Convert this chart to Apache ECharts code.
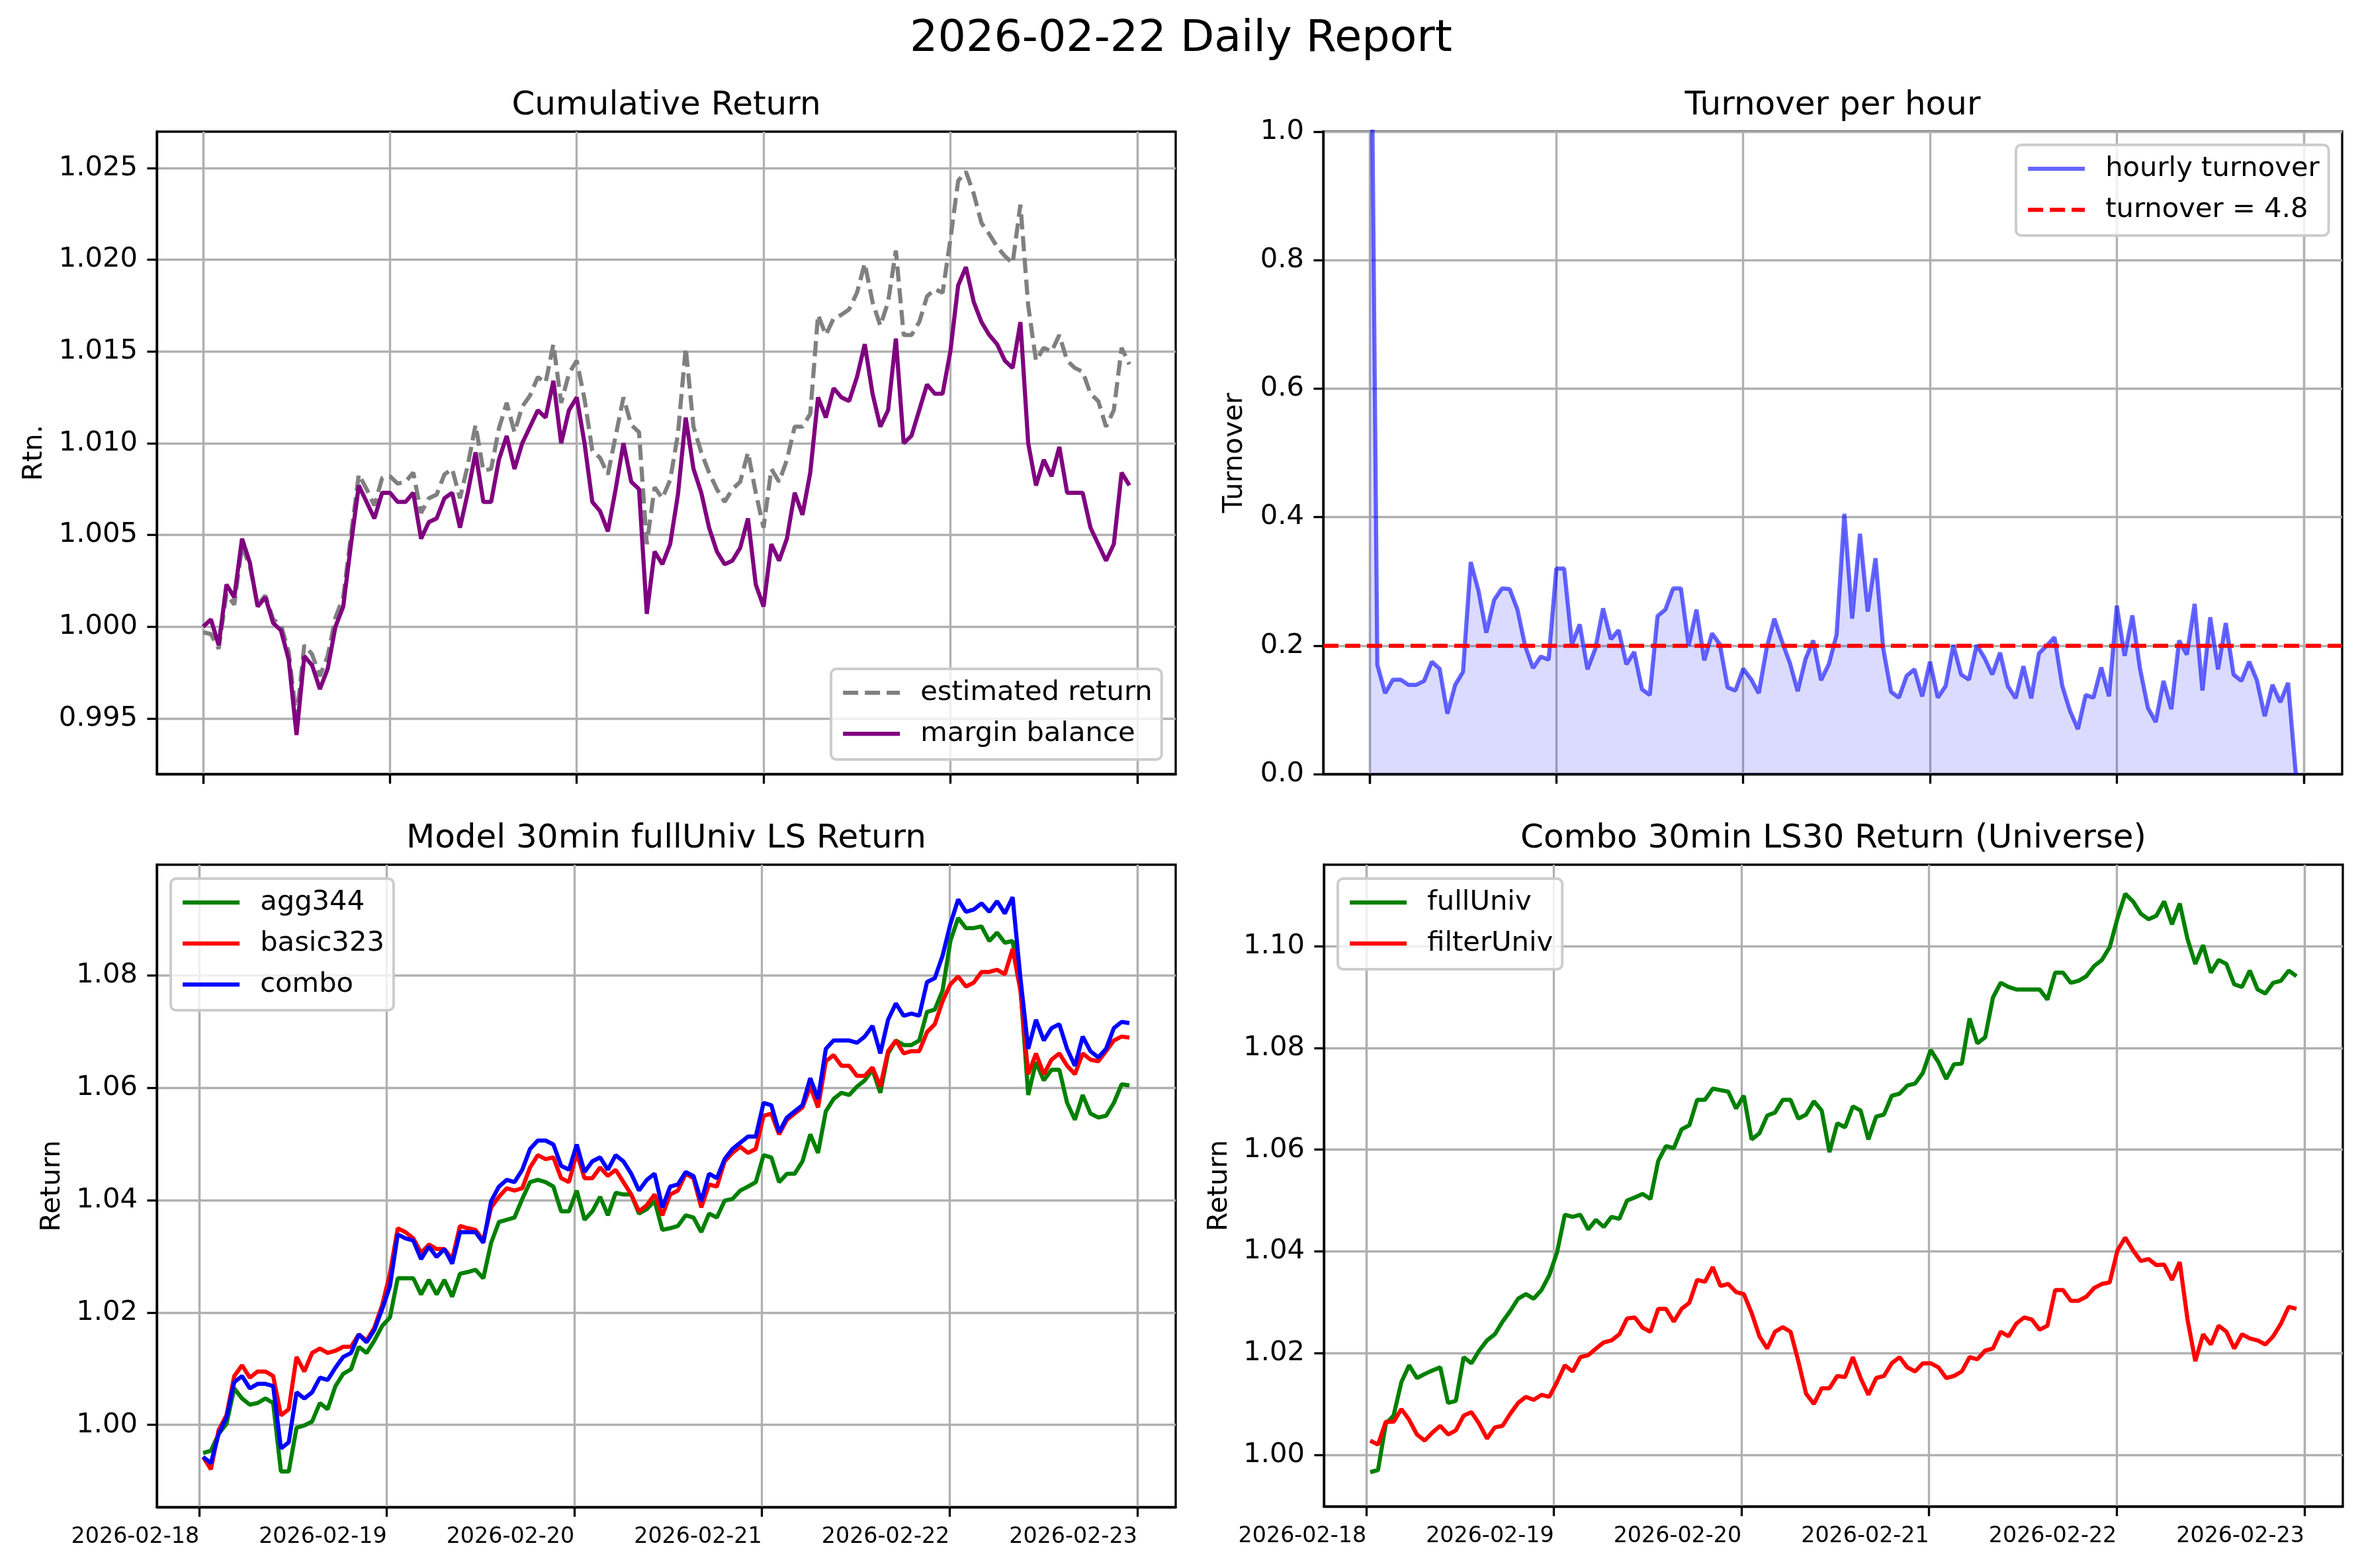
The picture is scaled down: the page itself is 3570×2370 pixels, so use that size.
<!DOCTYPE html>
<html>
<head>
<meta charset="utf-8">
<title>2026-02-22 Daily Report</title>
<script src="https://cdn.jsdelivr.net/npm/echarts@6/dist/echarts.min.js"></script>
<style>
  html, body { margin: 0; padding: 0; background: #fff; }
  #chart { width: 3570px; height: 2370px; }
</style>
</head>
<body>
<div id="chart"></div>
<script>
const HOUR = 3600 * 1000;
const FONT = 'DejaVu Sans';

// time ranges of the samples (local time)
const cumStart = new Date(2026, 1, 18, 0, 0).getTime();
const cumEnd = new Date(2026, 1, 22, 23, 0).getTime();
const modelStart = new Date(2026, 1, 18, 0, 30).getTime();
const modelEnd = new Date(2026, 1, 22, 23, 0).getTime();

// tick labels
const dayTicks = ['2026-02-18', '2026-02-19', '2026-02-20', '2026-02-21', '2026-02-22', '2026-02-23'];
const cumTicks = [0.995, 1.000, 1.005, 1.010, 1.015, 1.020, 1.025];
const turnoverTicks = [0.0, 0.2, 0.4, 0.6, 0.8, 1.0];
const modelTicks = [1.00, 1.02, 1.04, 1.06, 1.08];
const univTicks = [1.00, 1.02, 1.04, 1.06, 1.08, 1.10];

// Cumulative Return (hourly samples)
const marginBalance = [
  1.0000, 1.0004, 0.9990, 1.0023, 1.0016, 1.0048, 1.0035, 1.0011, 1.0016, 1.0002,
  0.9998, 0.9982, 0.9941, 0.9984, 0.9979, 0.9966, 0.9977, 1.0000, 1.0011, 1.0045,
  1.0077, 1.0068, 1.0059, 1.0073, 1.0073, 1.0068, 1.0068, 1.0073, 1.0048, 1.0057,
  1.0059, 1.0070, 1.0073, 1.0054, 1.0073, 1.0095, 1.0068, 1.0068, 1.0091, 1.0104,
  1.0086, 1.0100, 1.0109, 1.0118, 1.0114, 1.0134, 1.0100, 1.0118, 1.0125, 1.0100,
  1.0068, 1.0063, 1.0052, 1.0075, 1.0100, 1.0079, 1.0075, 1.0007, 1.0041, 1.0034,
  1.0045, 1.0072, 1.0114, 1.0086, 1.0073, 1.0054, 1.0041, 1.0034, 1.0036, 1.0043,
  1.0059, 1.0023, 1.0011, 1.0045, 1.0036, 1.0048, 1.0073, 1.0061, 1.0084, 1.0125,
  1.0114, 1.0130, 1.0125, 1.0123, 1.0136, 1.0154, 1.0127, 1.0109, 1.0118, 1.0157,
  1.0100, 1.0104, 1.0118, 1.0132, 1.0127, 1.0127, 1.0150, 1.0186, 1.0196, 1.0177,
  1.0166, 1.0159, 1.0154, 1.0145, 1.0141, 1.0166, 1.0100, 1.0077, 1.0091, 1.0082,
  1.0098, 1.0073, 1.0073, 1.0073, 1.0054, 1.0045, 1.0036, 1.0045, 1.0084, 1.0077
];
const estimatedReturn = [
  0.9997, 0.9996, 0.9988, 1.0018, 1.0012, 1.0044, 1.0033, 1.0012, 1.0017, 1.0004,
  1.0001, 0.9986, 0.9950, 0.9990, 0.9985, 0.9973, 0.9984, 1.0005, 1.0016, 1.0050,
  1.0083, 1.0075, 1.0066, 1.0081, 1.0082, 1.0078, 1.0079, 1.0084, 1.0062, 1.0070,
  1.0072, 1.0083, 1.0086, 1.0070, 1.0088, 1.0110, 1.0085, 1.0086, 1.0108, 1.0122,
  1.0106, 1.0120, 1.0126, 1.0136, 1.0133, 1.0154, 1.0122, 1.0138, 1.0145, 1.0124,
  1.0096, 1.0092, 1.0083, 1.0104, 1.0125, 1.0110, 1.0106, 1.0045, 1.0076, 1.0070,
  1.0080, 1.0105, 1.0152, 1.0109, 1.0095, 1.0084, 1.0075, 1.0068, 1.0075, 1.0079,
  1.0095, 1.0073, 1.0054, 1.0086, 1.0079, 1.0091, 1.0109, 1.0109, 1.0116, 1.0170,
  1.0159, 1.0168, 1.0170, 1.0173, 1.0182, 1.0198, 1.0177, 1.0164, 1.0177, 1.0205,
  1.0159, 1.0159, 1.0166, 1.0180, 1.0184, 1.0182, 1.0211, 1.0243, 1.0248, 1.0236,
  1.0220, 1.0214, 1.0207, 1.0202, 1.0198, 1.0230, 1.0175, 1.0145, 1.0152, 1.0150,
  1.0159, 1.0145, 1.0141, 1.0139, 1.0127, 1.0123, 1.0109, 1.0118, 1.0152, 1.0143
];

// Turnover per hour
const hourlyTurnover = [
  1.500, 0.170, 0.126, 0.147, 0.147, 0.139, 0.139, 0.145, 0.175, 0.164,
  0.094, 0.139, 0.159, 0.330, 0.285, 0.220, 0.271, 0.289, 0.288, 0.256,
  0.199, 0.165, 0.183, 0.178, 0.320, 0.320, 0.202, 0.233, 0.163, 0.195,
  0.258, 0.210, 0.224, 0.171, 0.190, 0.132, 0.123, 0.246, 0.256, 0.289,
  0.289, 0.200, 0.256, 0.177, 0.219, 0.202, 0.135, 0.130, 0.164, 0.148,
  0.126, 0.195, 0.242, 0.206, 0.173, 0.129, 0.179, 0.208, 0.146, 0.171,
  0.217, 0.405, 0.242, 0.374, 0.253, 0.336, 0.195, 0.128, 0.119, 0.153,
  0.163, 0.121, 0.175, 0.119, 0.137, 0.201, 0.155, 0.147, 0.201, 0.181,
  0.155, 0.189, 0.137, 0.118, 0.168, 0.118, 0.188, 0.200, 0.213, 0.137,
  0.098, 0.070, 0.123, 0.119, 0.166, 0.121, 0.262, 0.184, 0.247, 0.163,
  0.103, 0.081, 0.145, 0.101, 0.208, 0.186, 0.265, 0.130, 0.244, 0.163,
  0.235, 0.155, 0.145, 0.175, 0.146, 0.090, 0.139, 0.112, 0.142, 0.000
];
const turnoverTarget = 0.2;

// Model 30min fullUniv LS Return
const agg344 = [
  0.9950, 0.9954, 0.9984, 1.0002, 1.0065, 1.0047, 1.0036, 1.0039, 1.0047, 1.0039,
  0.9917, 0.9917, 0.9995, 0.9999, 1.0006, 1.0039, 1.0028, 1.0069, 1.0091, 1.0099,
  1.0139, 1.0128, 1.0150, 1.0176, 1.0191, 1.0261, 1.0261, 1.0261, 1.0232, 1.0258,
  1.0232, 1.0258, 1.0228, 1.0269, 1.0272, 1.0276, 1.0261, 1.0324, 1.0361, 1.0365,
  1.0369, 1.0402, 1.0432, 1.0436, 1.0432, 1.0424, 1.0380, 1.0380, 1.0417, 1.0365,
  1.0380, 1.0406, 1.0373, 1.0413, 1.0410, 1.0410, 1.0376, 1.0384, 1.0399, 1.0347,
  1.0350, 1.0354, 1.0373, 1.0369, 1.0343, 1.0376, 1.0369, 1.0399, 1.0402, 1.0417,
  1.0424, 1.0432, 1.0480, 1.0476, 1.0432, 1.0447, 1.0447, 1.0469, 1.0517, 1.0484,
  1.0558, 1.0580, 1.0591, 1.0587, 1.0602, 1.0613, 1.0632, 1.0591, 1.0661, 1.0684,
  1.0676, 1.0676, 1.0684, 1.0735, 1.0739, 1.0773, 1.0861, 1.0902, 1.0884, 1.0884,
  1.0887, 1.0861, 1.0876, 1.0858, 1.0861, 1.0780, 1.0587, 1.0646, 1.0613, 1.0632,
  1.0632, 1.0573, 1.0543, 1.0587, 1.0554, 1.0547, 1.0550, 1.0573, 1.0606, 1.0604
];
const basic323 = [
  0.9943, 0.9921, 0.9991, 1.0017, 1.0087, 1.0106, 1.0084, 1.0095, 1.0095, 1.0087,
  1.0017, 1.0028, 1.0121, 1.0095, 1.0128, 1.0136, 1.0128, 1.0132, 1.0139, 1.0139,
  1.0161, 1.0150, 1.0173, 1.0213, 1.0269, 1.0350, 1.0343, 1.0332, 1.0306, 1.0321,
  1.0313, 1.0313, 1.0295, 1.0354, 1.0350, 1.0347, 1.0328, 1.0387, 1.0406, 1.0421,
  1.0417, 1.0421, 1.0458, 1.0480, 1.0473, 1.0476, 1.0439, 1.0432, 1.0484, 1.0439,
  1.0439, 1.0458, 1.0443, 1.0454, 1.0432, 1.0410, 1.0380, 1.0391, 1.0410, 1.0373,
  1.0410, 1.0417, 1.0447, 1.0439, 1.0387, 1.0428, 1.0424, 1.0469, 1.0484, 1.0495,
  1.0484, 1.0491, 1.0550, 1.0554, 1.0517, 1.0543, 1.0554, 1.0565, 1.0602, 1.0565,
  1.0647, 1.0658, 1.0639, 1.0639, 1.0621, 1.0621, 1.0636, 1.0602, 1.0665, 1.0684,
  1.0661, 1.0665, 1.0665, 1.0699, 1.0713, 1.0754, 1.0784, 1.0798, 1.0780, 1.0787,
  1.0806, 1.0806, 1.0810, 1.0802, 1.0847, 1.0773, 1.0624, 1.0661, 1.0624, 1.0650,
  1.0661, 1.0639, 1.0624, 1.0661, 1.0650, 1.0647, 1.0665, 1.0684, 1.0691, 1.0689
];
const combo = [
  0.9943, 0.9932, 0.9984, 1.0013, 1.0076, 1.0087, 1.0065, 1.0073, 1.0073, 1.0069,
  0.9958, 0.9969, 1.0058, 1.0047, 1.0058, 1.0084, 1.0080, 1.0102, 1.0121, 1.0128,
  1.0161, 1.0147, 1.0169, 1.0206, 1.0247, 1.0339, 1.0332, 1.0328, 1.0295, 1.0317,
  1.0299, 1.0313, 1.0287, 1.0343, 1.0343, 1.0343, 1.0324, 1.0398, 1.0424, 1.0436,
  1.0432, 1.0454, 1.0491, 1.0506, 1.0506, 1.0499, 1.0461, 1.0454, 1.0499, 1.0450,
  1.0469, 1.0476, 1.0454, 1.0480, 1.0469, 1.0447, 1.0417, 1.0436, 1.0447, 1.0387,
  1.0424, 1.0428, 1.0450, 1.0443, 1.0398, 1.0447, 1.0439, 1.0473, 1.0491, 1.0502,
  1.0513, 1.0513, 1.0573, 1.0569, 1.0521, 1.0547, 1.0558, 1.0569, 1.0617, 1.0580,
  1.0669, 1.0684, 1.0684, 1.0684, 1.0680, 1.0691, 1.0710, 1.0661, 1.0721, 1.0750,
  1.0728, 1.0732, 1.0728, 1.0788, 1.0795, 1.0835, 1.0891, 1.0935, 1.0913, 1.0917,
  1.0928, 1.0913, 1.0932, 1.0910, 1.0939, 1.0795, 1.0669, 1.0721, 1.0684, 1.0706,
  1.0713, 1.0669, 1.0639, 1.0691, 1.0665, 1.0654, 1.0669, 1.0706, 1.0717, 1.0715
];

// Combo 30min LS30 Return (Universe)
const fullUniv = [
  0.9966, 0.9970, 1.0061, 1.0077, 1.0143, 1.0176, 1.0151, 1.0159, 1.0166, 1.0172,
  1.0102, 1.0106, 1.0192, 1.0180, 1.0205, 1.0225, 1.0237, 1.0262, 1.0283, 1.0307,
  1.0316, 1.0307, 1.0324, 1.0353, 1.0398, 1.0472, 1.0468, 1.0472, 1.0443, 1.0462,
  1.0448, 1.0468, 1.0464, 1.0500, 1.0506, 1.0513, 1.0503, 1.0578, 1.0607, 1.0603,
  1.0640, 1.0648, 1.0698, 1.0698, 1.0720, 1.0717, 1.0714, 1.0681, 1.0706, 1.0620,
  1.0632, 1.0667, 1.0673, 1.0698, 1.0698, 1.0661, 1.0669, 1.0695, 1.0677, 1.0595,
  1.0652, 1.0644, 1.0685, 1.0677, 1.0620, 1.0665, 1.0669, 1.0706, 1.0710, 1.0726,
  1.0730, 1.0751, 1.0796, 1.0772, 1.0739, 1.0768, 1.0769, 1.0858, 1.0809, 1.0821,
  1.0899, 1.0928, 1.0920, 1.0915, 1.0915, 1.0915, 1.0915, 1.0895, 1.0948, 1.0948,
  1.0928, 1.0932, 1.0941, 1.0961, 1.0973, 1.0998, 1.1055, 1.1103, 1.1088, 1.1064,
  1.1053, 1.1060, 1.1088, 1.1043, 1.1084, 1.1014, 1.0965, 1.1002, 1.0948, 1.0973,
  1.0965, 1.0925, 1.0920, 1.0952, 1.0915, 1.0907, 1.0928, 1.0932, 1.0952, 1.0941
];
const filterUniv = [
  1.0028, 1.0020, 1.0065, 1.0065, 1.0090, 1.0069, 1.0040, 1.0028, 1.0044, 1.0057,
  1.0040, 1.0048, 1.0077, 1.0084, 1.0061, 1.0032, 1.0054, 1.0057, 1.0081, 1.0102,
  1.0114, 1.0108, 1.0118, 1.0114, 1.0143, 1.0176, 1.0164, 1.0192, 1.0196, 1.0209,
  1.0221, 1.0225, 1.0237, 1.0268, 1.0270, 1.0250, 1.0242, 1.0287, 1.0287, 1.0262,
  1.0287, 1.0299, 1.0344, 1.0340, 1.0369, 1.0332, 1.0336, 1.0320, 1.0316, 1.0279,
  1.0233, 1.0209, 1.0242, 1.0251, 1.0242, 1.0184, 1.0120, 1.0100, 1.0131, 1.0131,
  1.0155, 1.0153, 1.0192, 1.0151, 1.0118, 1.0151, 1.0155, 1.0180, 1.0192, 1.0172,
  1.0164, 1.0180, 1.0180, 1.0172, 1.0151, 1.0155, 1.0164, 1.0192, 1.0188, 1.0205,
  1.0209, 1.0242, 1.0233, 1.0258, 1.0270, 1.0266, 1.0246, 1.0254, 1.0324, 1.0324,
  1.0303, 1.0303, 1.0311, 1.0328, 1.0336, 1.0339, 1.0402, 1.0427, 1.0402, 1.0381,
  1.0385, 1.0373, 1.0374, 1.0344, 1.0379, 1.0266, 1.0184, 1.0237, 1.0217, 1.0254,
  1.0242, 1.0209, 1.0237, 1.0229, 1.0225, 1.0217, 1.0233, 1.0258, 1.0291, 1.0287
];

// y ranges as drawn
const cumRange = [0.99197, 1.02698];
const turnoverRange = [0, 1];
const modelRange = [0.98537, 1.09968];
const univRange = [0.98985, 1.11602];

function pairs(start, end, values) {
  const step = (end - start) / (values.length - 1);
  return values.map((v, i) => [start + i * step, v]);
}
function padRange(start, end) {
  const m = (end - start) * 0.05;
  return [start - m, end + m];
}
function dayValue(s) {
  const p = s.split('-').map(Number);
  return new Date(p[0], p[1] - 1, p[2]).getTime();
}
const dayTickValues = dayTicks.map(dayValue);

const grids = [
  { left: 237, top: 199, width: 1540, height: 971 },
  { left: 2000, top: 199, width: 1540, height: 971 },
  { left: 237, top: 1307, width: 1540, height: 971 },
  { left: 2001, top: 1307, width: 1540, height: 970 }
].map(g => Object.assign(g, { show: true, borderColor: '#000', borderWidth: 3.3, backgroundColor: 'transparent', outerBoundsMode: 'none' }));

const splitStyle = { show: true, lineStyle: { color: '#b0b0b0', width: 3.3 } };

function timeAxis(gridIndex, range, showLabels) {
  return {
    type: 'time', gridIndex, min: range[0], max: range[1],
    minInterval: 24 * HOUR, maxInterval: 24 * HOUR,
    axisLine: { show: true, lineStyle: { color: '#000', width: 3.3 } },
    axisTick: { show: true, length: 14.6, lineStyle: { color: '#000', width: 3.3 }, customValues: dayTickValues },
    axisLabel: {
      show: showLabels, margin: 29, fontSize: 33.3, color: '#000', fontFamily: FONT, align: 'right',
      customValues: dayTickValues,
      formatter: '{yyyy}-{MM}-{dd}', hideOverlap: false
    },
    splitLine: splitStyle
  };
}
function valueAxis(gridIndex, range, ticks, decimals, name, nameGap) {
  return {
    type: 'value', gridIndex, min: range[0], max: range[1], splitNumber: ticks.length,
    name, nameLocation: 'middle', nameGap,
    nameTextStyle: { fontSize: 41.7, color: '#000', fontFamily: FONT, lineHeight: 42 },
    axisLine: { show: true, lineStyle: { color: '#000', width: 3.3 } },
    axisTick: { show: true, length: 14.6, lineStyle: { color: '#000', width: 3.3 }, customValues: ticks },
    axisLabel: {
      margin: 29, fontSize: 41.7, color: '#000', fontFamily: FONT, customValues: ticks,
      formatter: v => Number(v).toFixed(decimals)
    },
    splitLine: splitStyle
  };
}

const legendBase = {
  orient: 'vertical', itemWidth: 86, itemHeight: 20, itemGap: 20,
  padding: [15, 14, 18, 15],
  backgroundColor: 'rgba(255,255,255,0.8)', borderColor: '#cccccc', borderWidth: 4, borderRadius: 8,
  itemStyle: { opacity: 0 },
  lineStyle: { width: 6.25 },
  textStyle: { fontSize: 41.7, color: '#000', fontFamily: FONT, lineHeight: 42, padding: [0, 0, 0, 26] },
  selectedMode: false
};

function lineSeries(name, axisIndex, data, color, dashed) {
  return {
    name, type: 'line', xAxisIndex: axisIndex, yAxisIndex: axisIndex, data,
    symbol: 'none', showSymbol: false, clip: true,
    lineStyle: { color, width: 6.25, type: dashed ? [23, 10] : 'solid' },
    itemStyle: { color }
  };
}

function subTitle(text, x, y, size) {
  return {
    type: 'text', x, y, silent: true,
    style: {
      text, fill: '#000', fontSize: size, fontFamily: FONT,
      align: 'center', verticalAlign: 'middle', textAlign: 'center', textVerticalAlign: 'middle'
    }
  };
}

const turnoverSeries = lineSeries('hourly turnover', 1, pairs(cumStart, cumEnd, hourlyTurnover), 'rgba(0,0,255,0.6)', false);
turnoverSeries.areaStyle = { color: 'rgba(0,0,255,0.2)', origin: 'start' };

const targetSeries = lineSeries('turnover = 4.8', 1, [], '#ff0000', true);
targetSeries.markLine = {
  silent: true, symbol: 'none', label: { show: false },
  lineStyle: { color: '#ff0000', width: 6.25, type: [23, 10] },
  data: [{ yAxis: turnoverTarget }]
};

const option = {
  animation: false,
  backgroundColor: '#fff',
  graphic: [
    subTitle('2026-02-22 Daily Report', 1785, 60, 66.7),
    subTitle('Cumulative Return', 1007, 160, 50),
    subTitle('Turnover per hour', 2770, 160, 50),
    subTitle('Model 30min fullUniv LS Return', 1007, 1268, 50),
    subTitle('Combo 30min LS30 Return (Universe)', 2771, 1268, 50)
  ],
  grid: grids,
  xAxis: [
    timeAxis(0, padRange(cumStart, cumEnd), false),
    timeAxis(1, padRange(cumStart, cumEnd), false),
    timeAxis(2, padRange(modelStart, modelEnd), true),
    timeAxis(3, padRange(modelStart, modelEnd), true)
  ],
  yAxis: [
    valueAxis(0, cumRange, cumTicks, 3, 'Rtn.', 164),
    valueAxis(1, turnoverRange, turnoverTicks, 1, 'Turnover', 113),
    valueAxis(2, modelRange, modelTicks, 2, 'Return', 137),
    valueAxis(3, univRange, univTicks, 2, 'Return', 137)
  ],
  legend: [
    Object.assign({}, legendBase, { data: ['estimated return', 'margin balance'], left: 1256, top: 1011 }),
    Object.assign({}, legendBase, { data: ['hourly turnover', 'turnover = 4.8'], left: 3047, top: 219 }),
    Object.assign({}, legendBase, { data: ['agg344', 'basic323', 'combo'], left: 258, top: 1328 }),
    Object.assign({}, legendBase, { data: ['fullUniv', 'filterUniv'], left: 2022, top: 1328 })
  ],
  series: [
    lineSeries('estimated return', 0, pairs(cumStart, cumEnd, estimatedReturn), '#808080', true),
    lineSeries('margin balance', 0, pairs(cumStart, cumEnd, marginBalance), '#800080', false),
    turnoverSeries,
    targetSeries,
    lineSeries('agg344', 2, pairs(modelStart, modelEnd, agg344), '#008000', false),
    lineSeries('basic323', 2, pairs(modelStart, modelEnd, basic323), '#ff0000', false),
    lineSeries('combo', 2, pairs(modelStart, modelEnd, combo), '#0000ff', false),
    lineSeries('fullUniv', 3, pairs(modelStart, modelEnd, fullUniv), '#008000', false),
    lineSeries('filterUniv', 3, pairs(modelStart, modelEnd, filterUniv), '#ff0000', false)
  ]
};

const chart = echarts.init(document.getElementById('chart'), null, { renderer: 'canvas' });
chart.setOption(option);
</script>
</body>
</html>
